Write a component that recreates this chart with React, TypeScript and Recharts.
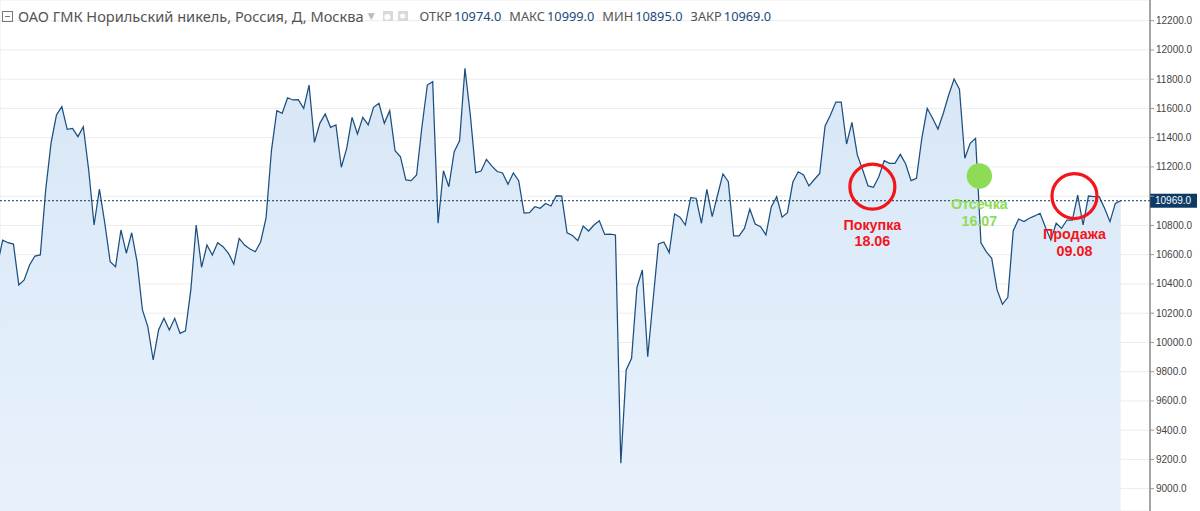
import React from 'react';
import {
  ComposedChart,
  Area,
  XAxis,
  YAxis,
  CartesianGrid,
  ReferenceLine,
  ReferenceDot,
} from 'recharts';

// daily closes, oldest first (first one sits just off the left edge)
const closes = [
  10527, 10700, 10682, 10673, 10393, 10427, 10530, 10591, 10598, 11042,
  11364, 11555, 11612, 11457, 11464, 11407, 11475, 11179, 10803, 11049,
  10815, 10552, 10518, 10769, 10610, 10750, 10552, 10222, 10108, 9880,
  10085, 10165, 10085, 10165, 10062, 10080, 10359, 10803, 10514, 10666,
  10598, 10682, 10655, 10610, 10536, 10712, 10666, 10639, 10620, 10689,
  10851, 11312, 11585, 11567, 11673, 11658, 11660, 11601, 11760, 11368,
  11498, 11562, 11471, 11487, 11198, 11327, 11539, 11425, 11539, 11487,
  11608, 11635, 11498, 11585, 11311, 11270, 11111, 11106, 11145, 11475,
  11760, 11783, 10815, 11174, 11065, 11304, 11379, 11874, 11555, 11161,
  11172, 11252, 11206, 11169, 11159, 11082, 11159, 11106, 10885, 10888,
  10928, 10917, 10950, 10933, 11003, 11001, 10750, 10731, 10696, 10796,
  10762, 10803, 10832, 10739, 10741, 10735, 9174, 9812, 9892, 10377,
  10495, 9902, 10290, 10673, 10687, 10614, 10878, 10856, 10803, 10990,
  10986, 10815, 11047, 10860, 11008, 11152, 11099, 10728, 10728, 10780,
  10912, 10810, 10791, 10735, 10928, 10997, 10856, 10887, 11095, 11167,
  11145, 11070, 11114, 11155, 11480, 11555, 11644, 11644, 11357, 11505,
  11282, 11179, 11070, 11061, 11133, 11243, 11225, 11225, 11286, 11220,
  11106, 11122, 11396, 11601, 11533, 11459, 11567, 11692, 11801, 11731,
  11259, 11362, 11396, 10682, 10620, 10575, 10359, 10261, 10309, 10762,
  10844, 10826, 10849, 10865, 10883, 10787, 10700, 10815, 10780, 10837,
  10837, 11008, 10803, 11001, 10997, 10997, 10917, 10826, 10951, 10969,
];

// bar indexes where the vertical grid lines (month starts) fall
const monthStarts = [9, 30, 51, 71, 90, 111, 132, 153, 173, 195, 208];

const priceTicks = [
  9000, 9200, 9400, 9600, 9800, 10000, 10200, 10400, 10600, 10800, 11000,
  11200, 11400, 11600, 11800, 12000, 12200,
];

const lastClose = 10969;

const title = 'ОАО ГМК Норильский никель, Россия, Д, Москва';
const ohlcNames = ['ОТКР', 'МАКС', 'МИН', 'ЗАКР'];
const ohlcValues = [10974.0, 10999.0, 10895.0, 10969.0];

// trade notes drawn on the chart
const buyNote = { bar: 162.8, price: 11065, text: 'Покупка', date: '18.06' };
const cutNote = { bar: 182.7, price: 11138, text: 'Отсечка', date: '16.07' };
const sellNote = { bar: 200.4, price: 11001, text: 'Продажа', date: '09.08' };

const data = closes.map((close, i) => ({ bar: i, close }));

const RED = '#f2151b';
const GREEN = '#8edc55';
const NAVY = '#0e3a66';
const AXIS_FONT = '"Liberation Sans", Arial, sans-serif';

const noteFont = {
  fontFamily: AXIS_FONT,
  fontWeight: 700,
  fontSize: 14.3,
};

function NoteText({ cx, cy, r, text, date, color }: any) {
  const y1 = cy + r + 15.5;
  return (
    <g>
      <text x={cx} y={y1} fill={color} textAnchor="middle" dominantBaseline="central" style={noteFont}>
        {text}
      </text>
      <text x={cx} y={y1 + 16.5} fill={color} textAnchor="middle" dominantBaseline="central" style={noteFont}>
        {date}
      </text>
    </g>
  );
}

function ringShape(note: typeof buyNote) {
  return (p: any) => (
    <g>
      <circle cx={p.cx} cy={p.cy} r={22.5} fill="none" stroke={RED} strokeWidth={3.2} />
      <NoteText cx={p.cx} cy={p.cy} r={22.5} text={note.text} date={note.date} color={RED} />
    </g>
  );
}

function dotShape(note: typeof cutNote) {
  return (p: any) => (
    <g>
      <circle cx={p.cx} cy={p.cy} r={12.7} fill={GREEN} />
      <NoteText cx={p.cx} cy={p.cy} r={12.7} text={note.text} date={note.date} color={GREEN} />
    </g>
  );
}

// right-axis tick; the one under the last-price tag shows only its top edge
function PriceTick(props: any) {
  const { x, y, payload } = props;
  const hidden = Math.abs(payload.value - lastClose) < 60;
  const text = (
    <text x={x} y={y} dy="0.35em" fill="#444" style={{ fontFamily: AXIS_FONT, fontSize: 10 }}>
      {Number(payload.value).toFixed(1)}
    </text>
  );
  if (!hidden) return text;
  return (
    <g>
      <clipPath id="tickPeek">
        <rect x={x - 2} y={y - 8} width={50} height={3.5} />
      </clipPath>
      <g clipPath="url(#tickPeek)">{text}</g>
    </g>
  );
}

function PriceTag(props: any) {
  const vb = props.viewBox || {};
  const x = (vb.x || 0) + (vb.width || 0);
  const y = vb.y || 0;
  return (
    <g>
      <rect x={x} y={y - 7} width={47} height={14} fill={NAVY} />
      <text
        x={x + 5}
        y={y}
        fill="#fff"
        dominantBaseline="central"
        style={{ fontFamily: AXIS_FONT, fontSize: 10 }}
      >
        {lastClose.toFixed(1)}
      </text>
    </g>
  );
}

const headFont = '"Noto Sans", "DejaVu Sans", sans-serif';

function Header() {
  const iconBox = {
    display: 'inline-block',
    width: 10,
    height: 10,
    background: '#d9d9d9',
    color: '#fff',
    fontSize: 8,
    lineHeight: '10px',
    textAlign: 'center' as const,
    marginRight: 5,
  };
  return (
    <div
      style={{
        position: 'absolute',
        left: 2,
        top: 7,
        display: 'flex',
        alignItems: 'center',
        fontFamily: headFont,
        fontSize: 14.6,
        color: '#555',
        whiteSpace: 'nowrap',
        lineHeight: '18px',
      }}
    >
      <span
        style={{
          display: 'inline-block',
          width: 9,
          height: 9,
          border: '1px solid #777',
          position: 'relative',
          marginRight: 5,
        }}
      >
        <span style={{ position: 'absolute', left: 2, right: 2, top: 4, height: 1, background: '#777' }} />
      </span>
      <span>{title}</span>
      <span style={{ color: '#bbb', fontSize: 9, margin: '0 8px 0 4px' }}>▼</span>
      <span style={iconBox}>●</span>
      <span style={{ ...iconBox, marginRight: 12 }}>✱</span>
      {ohlcNames.map((name, i) => (
        <span key={name} style={{ marginRight: 8, fontSize: 12.8 }}>
          <span style={{ color: '#555' }}>{name}</span>
          <span style={{ color: '#1d4a7c', marginLeft: 2 }}>{ohlcValues[i].toFixed(1)}</span>
        </span>
      ))}
    </div>
  );
}

export default function App() {
  return (
    <div
      style={{
        position: 'absolute',
        left: 0,
        top: 0,
        width: 1200,
        height: 511,
        background: '#fff',
        overflow: 'hidden',
      }}
    >
      <ComposedChart
        width={1200}
        height={511}
        data={data}
        margin={{ top: 0, right: 0, bottom: 0, left: 0 }}
      >
        <defs>
          <linearGradient id="fillClose" x1="0" y1="0" x2="0" y2="1">
            <stop offset="0%" stopColor="#d6e5f5" stopOpacity={0.95} />
            <stop offset="100%" stopColor="#e6f1fc" stopOpacity={0.95} />
          </linearGradient>
        </defs>
        <CartesianGrid stroke="#ececec" strokeWidth={1} />
        <XAxis
          dataKey="bar"
          type="number"
          domain={[0.5, 214.45]}
          allowDataOverflow
          ticks={monthStarts}
          height={0}
          tick={false}
          axisLine={false}
          tickLine={false}
        />
        <YAxis
          orientation="right"
          type="number"
          domain={[8847.5, 12341.5]}
          allowDataOverflow
          ticks={priceTicks}
          width={50}
          tickSize={4}
          tickMargin={2}
          tick={<PriceTick />}
          axisLine={{ stroke: '#555' }}
          tickLine={{ stroke: '#999' }}
        />
        <Area
          type="linear"
          dataKey="close"
          stroke="#1c4f80"
          strokeWidth={1.25}
          fill="url(#fillClose)"
          fillOpacity={1}
          isAnimationActive={false}
          dot={false}
          activeDot={false}
        />
        <ReferenceLine
          y={lastClose}
          stroke={NAVY}
          strokeDasharray="2 2"
          strokeWidth={1}
          label={(p: any) => <PriceTag {...p} />}
        />
        <ReferenceDot x={buyNote.bar} y={buyNote.price} r={22} shape={ringShape(buyNote)} />
        <ReferenceDot x={cutNote.bar} y={cutNote.price} r={13} shape={dotShape(cutNote)} />
        <ReferenceDot x={sellNote.bar} y={sellNote.price} r={22} shape={ringShape(sellNote)} />
      </ComposedChart>
      <Header />
    </div>
  );
}
